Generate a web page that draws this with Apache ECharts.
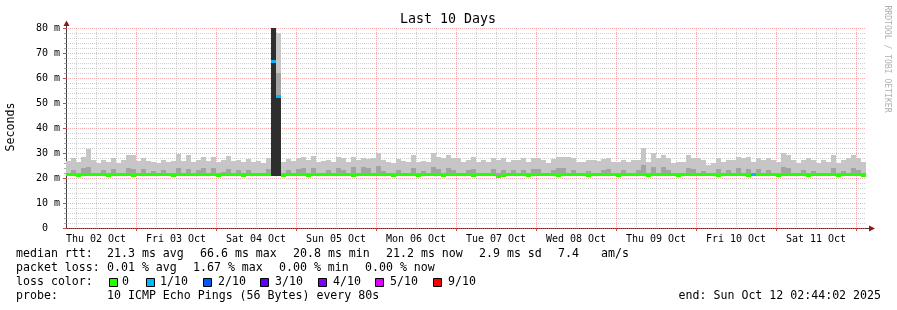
<!DOCTYPE html>
<html><head><meta charset="utf-8">
<script src="https://cdn.jsdelivr.net/npm/echarts@6/dist/echarts.min.js"></script>
<style>html,body{margin:0;padding:0;background:#fff}#c{width:897px;height:310px}</style>
</head><body><div id="c"></div>
<script>
// ---- axis / tick data ----
const dayLabels = ['Thu 02 Oct','Fri 03 Oct','Sat 04 Oct','Sun 05 Oct','Mon 06 Oct','Tue 07 Oct','Wed 08 Oct','Thu 09 Oct','Fri 10 Oct','Sat 11 Oct'];
const labelHours = [12,36,60,84,108,132,156,180,204,228];      // noon of each day (hours since Thu 02 Oct 00:00)
const dayLineHours = [24,48,72,96,120,144,168,192,216,240];     // midnights
const minorHours = [6,12,18,30,36,42,54,60,66,78,84,90,102,108,114,126,132,138,150,156,162,174,180,186,198,204,210,222,228,234];
const rangeStart = 3, rangeEnd = 243;   // hours
const binHours = 1.5;                   // each sample bin

// ---- series data (ms) ----
const median = [
21.3,21.3,21.2,21.3,21.3,21.4,21.3,21.3,21.2,21.3,21.3,21.3,21.3,21.2,21.3,21.3,21.4,21.3,21.3,21.3,21.3,21.2,21.3,21.3,21.3,21.3,21.3,21.4,21.3,21.3,21.2,21.3,
21.3,21.3,21.3,21.2,21.3,21.3,21.3,21.3,21.3,66.6,52.5,21.2,21.3,21.3,21.3,21.3,21.2,21.3,21.3,21.3,21.4,21.3,21.3,21.3,21.3,21.2,21.3,21.3,21.3,21.3,21.3,21.3,
21.3,21.2,21.3,21.3,21.3,21.3,21.2,21.3,21.3,21.3,21.3,21.2,21.3,21.3,21.3,21.3,21.3,21.2,21.3,21.3,21.3,21.3,20.8,21.2,21.3,21.3,21.3,21.3,21.2,21.3,21.3,21.3,
21.3,21.3,21.2,21.3,21.3,21.3,21.3,21.3,21.2,21.3,21.3,21.3,21.3,21.3,21.2,21.3,21.3,21.3,21.3,21.3,21.2,21.3,21.3,21.3,21.3,21.3,21.2,21.3,21.3,21.3,21.3,21.3,
21.3,21.3,21.2,21.3,21.3,21.3,21.3,21.3,21.2,21.3,21.3,21.3,21.3,21.3,21.2,21.3,21.3,21.3,21.3,21.3,21.2,21.3,21.3,21.3,21.3,21.3,21.2,21.3,21.3,21.3,21.3,21.2
];
const smokeMax = [
26.8,27.9,26.5,28.5,31.6,27.2,25.9,27.2,26.5,27.9,26.1,27.2,29.2,29.2,26.9,27.9,26.9,26.5,26.1,27.2,26.3,26.9,29.6,26.7,29.2,26.5,27.2,28.3,26.9,28.5,26.5,27.2,
28.8,26.9,27.2,26.3,27.5,26.5,26.9,26.1,28.0,82.0,78.0,26.5,27.5,26.9,27.9,28.5,27.2,29.0,26.3,26.9,27.2,26.5,28.5,27.9,26.6,28.5,27.2,27.9,27.6,27.9,30.0,27.2,
26.5,26.2,27.6,26.8,26.4,29.2,26.6,27.0,26.3,29.9,28.5,27.9,29.2,27.9,27.9,26.5,27.2,28.5,26.6,27.2,26.4,27.9,27.2,27.9,26.5,27.2,27.2,27.9,26.3,27.9,27.9,27.2,
25.9,27.5,28.5,28.5,28.3,27.9,26.5,26.5,27.2,27.2,26.8,27.6,27.9,26.5,26.5,27.2,26.5,27.2,27.2,31.9,26.4,29.9,27.9,29.2,27.9,25.9,26.5,26.5,29.2,27.9,27.9,27.2,
25.2,25.9,27.9,26.5,27.2,27.2,28.5,27.9,28.5,26.5,27.9,27.2,27.9,27.2,26.5,29.9,29.2,27.2,25.9,27.2,27.9,27.2,25.9,27.2,26.5,29.2,25.9,27.2,27.9,29.2,27.9,26.5
];
const smokeMid = [
22.0,23.4,21.9,24.0,24.6,22.1,21.9,23.2,22.0,23.6,21.9,22.2,24.2,23.8,22.0,23.5,21.9,22.8,22.0,23.3,21.9,22.1,24.1,22.0,23.7,21.9,23.2,23.9,22.0,24.0,21.9,22.3,
23.8,22.0,23.1,21.9,23.3,22.0,22.1,21.9,23.6,80.0,62.0,22.0,23.2,21.9,23.5,23.9,22.0,24.2,21.9,22.2,23.1,22.0,24.0,23.4,21.9,24.3,22.1,24.5,24.0,22.0,24.8,23.0,
22.0,21.9,23.4,22.1,21.9,24.2,22.0,23.0,21.9,24.5,23.8,22.0,24.1,23.4,22.1,21.9,23.1,23.8,22.0,22.2,21.9,23.5,22.0,23.4,21.9,23.1,22.0,23.4,21.9,23.6,23.5,22.0,
21.9,23.3,23.9,24.0,22.1,23.4,22.0,21.9,23.0,22.1,21.9,23.4,23.6,22.0,21.9,23.1,22.0,22.2,23.2,25.2,21.9,24.4,22.1,24.3,23.4,21.9,22.0,21.9,24.0,23.6,22.1,23.0,
21.9,22.0,23.5,22.0,23.1,22.1,23.9,22.0,23.8,21.9,23.5,22.0,23.4,22.1,21.9,24.5,24.2,22.0,21.9,23.1,22.1,23.0,21.9,22.2,22.0,24.1,21.9,23.0,22.1,24.0,23.4,22.0
];
const smokeMin = 21.0;
const smokeInner = {41: 80.0, 42: 52.0};     // inner (darkest) band tops where visible
const lossByBin = {41: 1, 42: 1, 137: 1};     // packets lost out of 10

// ---- legend texts ----
const lossLevels = ['0','1/10','2/10','3/10','4/10','5/10','9/10'];
const lossColors = {0:'#26ff00',1:'#00b8ff',2:'#0059ff',3:'#5e00ff',4:'#7e00ff',5:'#dd00ff',9:'#ff0000'};
const lossLegendColors = ['#26ff00','#00b8ff','#0059ff','#5e00ff','#7e00ff','#dd00ff','#ff0000'];
const rttStats = ['21.3 ms avg','66.6 ms max','20.8 ms min','21.2 ms now','2.9 ms sd','7.4','am/s'];
const lossStats = ['0.01 % avg','1.67 % max','0.00 % min','0.00 % now'];
const probeText = '10 ICMP Echo Pings (56 Bytes) every 80s';
const endText = 'end: Sun Oct 12 02:44:02 2025';

// ---- build ----
const MONO = 'DejaVu Sans Mono';
const rows = median.map((m, i) => [
  rangeStart + i * binHours, rangeStart + (i + 1) * binHours,
  smokeMin, smokeMid[i], smokeMax[i], (smokeInner[i] != null ? smokeInner[i] : smokeMin), m, (lossByBin[i] || 0)
]);

const chart = echarts.init(document.getElementById('c'), null, {renderer: 'canvas'});
const redGrid = {color: 'rgba(240,110,110,0.55)', type: [1, 1], width: 1};
const greyGrid = {color: 'rgba(160,160,160,0.5)', type: [1, 1], width: 1};

const T = (text, x, y, extra) => Object.assign({type: 'text', x, y, silent: true,
  style: Object.assign({text, font: '11.6px "' + MONO + '"', fill: '#000', textVerticalAlign: 'middle'}, extra || {})});

const graphics = [
  T('Last 10 Days', 448, 20, {font: '13.3px "' + MONO + '"', textAlign: 'center'}),
  Object.assign(T('Seconds', 11, 127, {textAlign: 'center'}), {rotation: Math.PI / 2}),
  Object.assign(T('RRDTOOL / TOBI OETIKER', 887, 59, {textAlign: 'center', font: '8.1px "' + MONO + '"', fill: '#b0b0b0'}), {rotation: -Math.PI / 2}),
  // axis lines with arrows
  {type: 'line', shape: {x1: 66.5, y1: 228, x2: 66.5, y2: 24}, style: {stroke: '#404040', lineWidth: 1}},
  {type: 'line', shape: {x1: 66, y1: 228.5, x2: 870, y2: 228.5}, style: {stroke: '#404040', lineWidth: 1}},
  {type: 'polygon', shape: {points: [[66.5, 20.5], [63.5, 26], [69.5, 26]]}, style: {fill: '#8b1a1a'}},
  {type: 'polygon', shape: {points: [[875, 228.5], [869, 225.5], [869, 231.5]]}, style: {fill: '#8b1a1a'}},
  T('median rtt:', 16, 254), T('packet loss:', 16, 268), T('loss color:', 16, 282), T('probe:', 16, 296),
  T(probeText, 107, 296),
  T(endText, 881, 296, {textAlign: 'right'})
];
const rttX = [107, 200, 293, 386, 479, 558, 601];
rttStats.forEach((s, i) => graphics.push(T(s, rttX[i], 254)));
const lossX = [107, 193, 279, 365];
lossStats.forEach((s, i) => graphics.push(T(s, lossX[i], 268)));
const boxX = [109, 146, 203, 260, 318, 375, 433];
const lblX = [122, 160, 218, 275, 333, 390, 448];
lossLevels.forEach((s, i) => {
  graphics.push({type: 'rect', shape: {x: boxX[i] + 0.5, y: 278.5, width: 8, height: 8}, style: {fill: lossLegendColors[i], stroke: '#000', lineWidth: 1}});
  graphics.push(T(s, lblX[i], 282));
});

const option = {
  animation: false,
  backgroundColor: '#fff',
  grid: {left: 66, top: 28, width: 800, height: 200, containLabel: false, outerBoundsMode: 'none'},
  xAxis: [
    {
      type: 'value', min: rangeStart, max: rangeEnd, position: 'bottom', z: 1,
      axisLine: {show: false},
      axisTick: {show: true, customValues: dayLineHours, length: 3, lineStyle: {color: '#e04040'}},
      axisLabel: {show: true, customValues: labelHours, margin: 6, color: '#000', fontFamily: MONO, fontSize: 10,
        formatter: v => dayLabels[labelHours.indexOf(v)] || ''},
      splitLine: {show: true, lineStyle: redGrid}
    },
    {
      type: 'value', min: rangeStart, max: rangeEnd, position: 'bottom', z: 0,
      axisLine: {show: false},
      axisTick: {show: false, customValues: minorHours},
      axisLabel: {show: false, customValues: minorHours},
      splitLine: {show: true, lineStyle: greyGrid}
    }
  ],
  yAxis: {
    type: 'value', min: 0, max: 80, interval: 10,
    axisLine: {show: false},
    axisTick: {show: true, length: 3, lineStyle: {color: '#e04040'}},
    minorTick: {show: true, splitNumber: 5, length: 2, lineStyle: {color: '#aaa'}},
    axisLabel: {margin: 6, color: '#000', fontFamily: MONO, fontSize: 10, formatter: v => v === 0 ? '0  ' : v + ' m'},
    splitLine: {show: true, lineStyle: redGrid},
    minorSplitLine: {show: true, lineStyle: greyGrid}
  },
  series: [{
    type: 'custom', xAxisIndex: 0, clip: true, z: 5,
    data: rows,
    encode: {x: [0, 1], y: [2, 3, 4, 5, 6]},
    renderItem: (params, api) => {
      const x0 = api.value(0), x1 = api.value(1);
      const rect = (lo, hi, fill) => {
        const a = api.coord([x0, hi]), b = api.coord([x1, lo]);
        return {type: 'rect', shape: {x: a[0], y: Math.round(a[1]), width: b[0] - a[0], height: Math.round(b[1]) - Math.round(a[1])}, style: {fill}};
      };
      const lo = api.value(2), mid = api.value(3), hi = api.value(4), inner = api.value(5), med = api.value(6), loss = api.value(7);
      const ch = [rect(lo, hi, '#c6c6c6'), rect(lo, mid, '#a3a3a3')];
      if (inner > lo) ch.push(rect(lo, inner, '#2e2e2e'));
      const a = api.coord([x0, med]), b = api.coord([x1, med]);
      ch.push({type: 'rect', shape: {x: a[0], y: Math.round(a[1] - 1.5), width: b[0] - a[0], height: 3}, style: {fill: lossColors[loss]}});
      return {type: 'group', children: ch};
    }
  }],
  graphic: graphics
};
chart.setOption(option);
</script></body></html>
